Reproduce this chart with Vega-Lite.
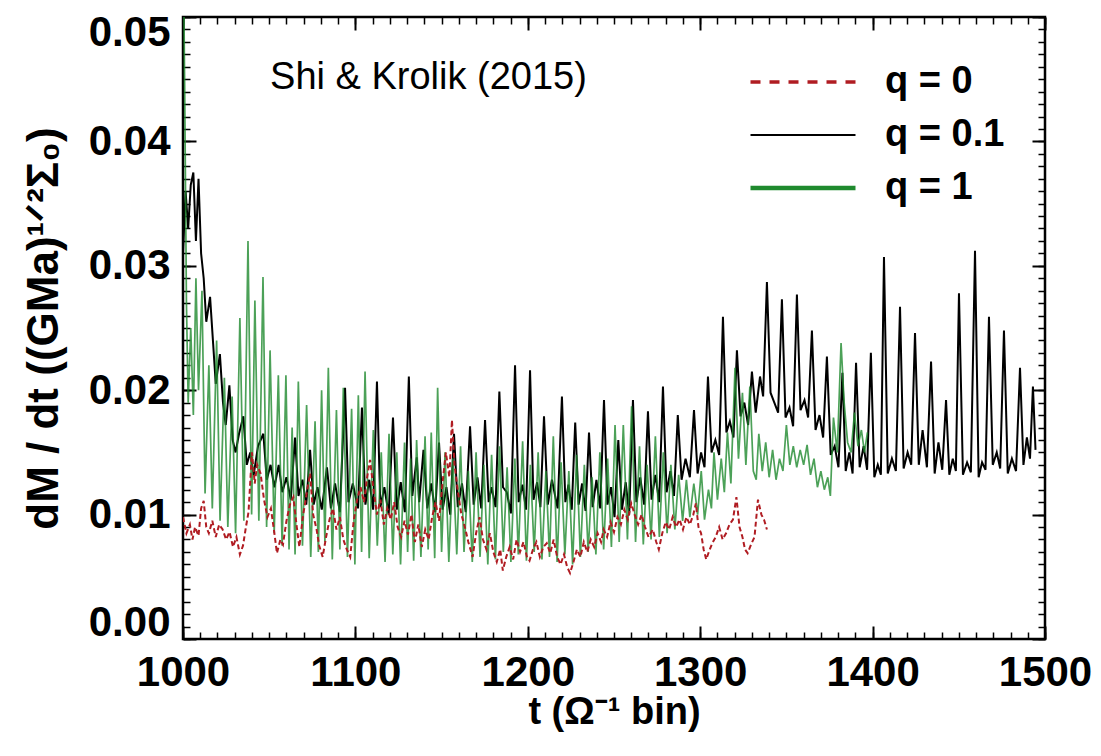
{
"$schema": "https://vega.github.io/schema/vega-lite/v6.json",
"width": 862, "height": 622,
"autosize": "none",
"padding": {"left": 183, "top": 17, "right": 56, "bottom": 117},
"background": "white",
"config": {
  "view": {"stroke": "black", "strokeWidth": 2.5},
  "font": "Liberation Sans",
  "axis": {"grid": false, "domain": false, "tickColor": "black", "labelFont": "Liberation Sans", "labelFontWeight": "bold", "labelFontSize": 42, "labelColor": "black", "titleFont": "Liberation Sans", "titleFontWeight": "bold", "titleColor": "black", "labelFlush": false}
},
"datasets": {
"q01": [
{"t":1000,"v":0.031},{"t":1001.5,"v":0.036},{"t":1003,"v":0.033},{"t":1004.5,"v":0.0365},{"t":1006,"v":0.0375},{"t":1007.5,"v":0.032},{"t":1009,"v":0.037},{"t":1010.5,"v":0.031},{"t":1012,"v":0.029},{"t":1013.5,"v":0.0255},{"t":1015.7,"v":0.0275},{"t":1017.5,"v":0.0237},{"t":1019,"v":0.0205},{"t":1021.4,"v":0.0229},{"t":1023.2,"v":0.019},{"t":1024.8,"v":0.0172},{"t":1026.9,"v":0.0204},{"t":1028.8,"v":0.016},{"t":1030.5,"v":0.015},{"t":1032.5,"v":0.0165},{"t":1035,"v":0.0179},{"t":1037,"v":0.014},{"t":1039,"v":0.015},{"t":1041,"v":0.0132},{"t":1043.5,"v":0.0155},{"t":1046.6,"v":0.0165},{"t":1048.6,"v":0.0128},{"t":1050.8,"v":0.014},{"t":1053,"v":0.0122},{"t":1055.5,"v":0.014},{"t":1057.6,"v":0.0118},{"t":1060,"v":0.013},{"t":1062.5,"v":0.0112},{"t":1065,"v":0.0162},{"t":1067,"v":0.0115},{"t":1069.3,"v":0.0128},{"t":1071.5,"v":0.0108},{"t":1073.7,"v":0.0152},{"t":1075.8,"v":0.0108},{"t":1078,"v":0.0122},{"t":1080.5,"v":0.0104},{"t":1083.5,"v":0.0138},{"t":1085.8,"v":0.0105},{"t":1088.2,"v":0.0125},{"t":1091,"v":0.0102},{"t":1094,"v":0.0202},{"t":1096,"v":0.011},{"t":1098.5,"v":0.0125},{"t":1101.5,"v":0.0105},{"t":1103.8,"v":0.0186},{"t":1105.8,"v":0.0108},{"t":1108,"v":0.0128},{"t":1110.3,"v":0.0104},{"t":1112.5,"v":0.0207},{"t":1114.5,"v":0.0106},{"t":1116.8,"v":0.0122},{"t":1119.3,"v":0.01},{"t":1121.8,"v":0.0178},{"t":1124,"v":0.0104},{"t":1126.3,"v":0.0126},{"t":1128.7,"v":0.0102},{"t":1131,"v":0.0211},{"t":1133,"v":0.0115},{"t":1135.6,"v":0.0146},{"t":1137,"v":0.011},{"t":1139.5,"v":0.0152},{"t":1141.7,"v":0.0105},{"t":1144,"v":0.0125},{"t":1146.3,"v":0.0102},{"t":1148.5,"v":0.0158},{"t":1150.6,"v":0.0104},{"t":1152.8,"v":0.0122},{"t":1155,"v":0.01},{"t":1157.2,"v":0.0165},{"t":1159.4,"v":0.0106},{"t":1161.8,"v":0.0125},{"t":1164,"v":0.0102},{"t":1166.5,"v":0.0171},{"t":1168.6,"v":0.0108},{"t":1170.8,"v":0.013},{"t":1173,"v":0.0105},{"t":1175.2,"v":0.0176},{"t":1177.3,"v":0.011},{"t":1179,"v":0.0122},{"t":1181.3,"v":0.0106},{"t":1183.5,"v":0.0199},{"t":1185.6,"v":0.0122},{"t":1187.8,"v":0.0118},{"t":1190.2,"v":0.0101},{"t":1192.6,"v":0.022},{"t":1194.7,"v":0.011},{"t":1196.9,"v":0.0124},{"t":1199,"v":0.0104},{"t":1201.3,"v":0.0216},{"t":1203.3,"v":0.0112},{"t":1205.4,"v":0.0126},{"t":1207.3,"v":0.0106},{"t":1209.4,"v":0.0179},{"t":1211.6,"v":0.0108},{"t":1214,"v":0.0128},{"t":1217.3,"v":0.0105},{"t":1219.8,"v":0.0195},{"t":1221.8,"v":0.011},{"t":1223.6,"v":0.0124},{"t":1225.5,"v":0.0104},{"t":1227.5,"v":0.0174},{"t":1229.5,"v":0.0108},{"t":1231.5,"v":0.0125},{"t":1233.5,"v":0.0103},{"t":1235.5,"v":0.0166},{"t":1237.6,"v":0.0106},{"t":1239.8,"v":0.0128},{"t":1242,"v":0.0105},{"t":1244.2,"v":0.0192},{"t":1246.2,"v":0.0108},{"t":1248.3,"v":0.0122},{"t":1250.3,"v":0.0098},{"t":1252.5,"v":0.016},{"t":1254.6,"v":0.0104},{"t":1256.8,"v":0.0126},{"t":1258.8,"v":0.01},{"t":1261,"v":0.0192},{"t":1263,"v":0.011},{"t":1265.2,"v":0.013},{"t":1267.5,"v":0.0108},{"t":1269.7,"v":0.0183},{"t":1271.8,"v":0.0112},{"t":1274,"v":0.0132},{"t":1276.2,"v":0.011},{"t":1278.4,"v":0.0203},{"t":1280.5,"v":0.0118},{"t":1282.7,"v":0.0135},{"t":1284.8,"v":0.0115},{"t":1287,"v":0.018},{"t":1289.2,"v":0.0128},{"t":1291.5,"v":0.0145},{"t":1294,"v":0.013},{"t":1296.4,"v":0.0184},{"t":1298.5,"v":0.0133},{"t":1300.5,"v":0.015},{"t":1302.5,"v":0.0138},{"t":1304.5,"v":0.0211},{"t":1306.6,"v":0.015},{"t":1308.8,"v":0.016},{"t":1311,"v":0.0148},{"t":1313.2,"v":0.0259},{"t":1315.2,"v":0.0166},{"t":1317.2,"v":0.0175},{"t":1319.3,"v":0.0162},{"t":1321.3,"v":0.0232},{"t":1323.4,"v":0.0179},{"t":1325.6,"v":0.019},{"t":1327.8,"v":0.0172},{"t":1330,"v":0.0215},{"t":1332.2,"v":0.0182},{"t":1334.7,"v":0.0211},{"t":1336.5,"v":0.0195},{"t":1338.7,"v":0.0287},{"t":1340.8,"v":0.0198},{"t":1343,"v":0.019},{"t":1345.2,"v":0.0182},{"t":1347.4,"v":0.0273},{"t":1349.5,"v":0.0178},{"t":1351.8,"v":0.0186},{"t":1353.9,"v":0.0171},{"t":1356.1,"v":0.0277},{"t":1358.2,"v":0.0184},{"t":1360.5,"v":0.0192},{"t":1362.6,"v":0.0178},{"t":1364.8,"v":0.0248},{"t":1366.9,"v":0.0168},{"t":1369.2,"v":0.018},{"t":1371.3,"v":0.0162},{"t":1373.5,"v":0.0227},{"t":1375.7,"v":0.0148},{"t":1378,"v":0.0155},{"t":1380.2,"v":0.0138},{"t":1382.5,"v":0.0214},{"t":1384.4,"v":0.0135},{"t":1386.5,"v":0.015},{"t":1388.4,"v":0.0133},{"t":1390.4,"v":0.0222},{"t":1392.5,"v":0.0138},{"t":1394.8,"v":0.0155},{"t":1396.8,"v":0.0136},{"t":1399,"v":0.023},{"t":1401,"v":0.013},{"t":1403,"v":0.014},{"t":1404.8,"v":0.0132},{"t":1406.6,"v":0.0307},{"t":1408.8,"v":0.0133},{"t":1411.2,"v":0.0145},{"t":1413.5,"v":0.0135},{"t":1415.9,"v":0.0267},{"t":1418,"v":0.0137},{"t":1420.3,"v":0.015},{"t":1422.4,"v":0.014},{"t":1424.6,"v":0.0246},{"t":1426.8,"v":0.014},{"t":1429,"v":0.0168},{"t":1431.5,"v":0.0138},{"t":1433.9,"v":0.0223},{"t":1436,"v":0.0133},{"t":1438.2,"v":0.0158},{"t":1440.4,"v":0.0136},{"t":1442.6,"v":0.0192},{"t":1444.5,"v":0.0132},{"t":1446.5,"v":0.0145},{"t":1448.3,"v":0.0135},{"t":1450.1,"v":0.0278},{"t":1452.4,"v":0.0132},{"t":1454.8,"v":0.0142},{"t":1457,"v":0.0134},{"t":1459.4,"v":0.0312},{"t":1461.5,"v":0.013},{"t":1463.5,"v":0.0142},{"t":1465.5,"v":0.0136},{"t":1467.5,"v":0.0259},{"t":1469.7,"v":0.014},{"t":1472,"v":0.015},{"t":1474,"v":0.0137},{"t":1476.2,"v":0.0248},{"t":1478.4,"v":0.0133},{"t":1480.8,"v":0.0145},{"t":1483.2,"v":0.0135},{"t":1485.5,"v":0.0218},{"t":1487.5,"v":0.014},{"t":1489.5,"v":0.0162},{"t":1491.3,"v":0.0145},{"t":1493,"v":0.0203},{"t":1494.5,"v":0.0152}
],
"q1": [
{"t":1000,"v":0.058},{"t":1001,"v":0.044},{"t":1002,"v":0.027},{"t":1003,"v":0.019},{"t":1004.5,"v":0.025},{"t":1006,"v":0.018},{"t":1007.5,"v":0.029},{"t":1009,"v":0.02},{"t":1011,"v":0.028},{"t":1012.8,"v":0.0117},{"t":1015,"v":0.022},{"t":1017,"v":0.0105},{"t":1019.5,"v":0.024},{"t":1021.5,"v":0.0095},{"t":1024,"v":0.021},{"t":1026,"v":0.009},{"t":1028.5,"v":0.0195},{"t":1030.5,"v":0.0085},{"t":1033,"v":0.0258},{"t":1035.3,"v":0.0095},{"t":1037.7,"v":0.032},{"t":1039.8,"v":0.01},{"t":1041.7,"v":0.0272},{"t":1044,"v":0.0095},{"t":1046.4,"v":0.0291},{"t":1048.5,"v":0.009},{"t":1050.5,"v":0.0232},{"t":1052.9,"v":0.0085},{"t":1055.3,"v":0.0212},{"t":1057.5,"v":0.0075},{"t":1059.7,"v":0.0212},{"t":1061.5,"v":0.0072},{"t":1063.3,"v":0.017},{"t":1065,"v":0.0068},{"t":1066.9,"v":0.0207},{"t":1069.3,"v":0.0075},{"t":1071.7,"v":0.0188},{"t":1074.1,"v":0.0066},{"t":1076.6,"v":0.0175},{"t":1078.5,"v":0.007},{"t":1080.4,"v":0.02},{"t":1082.3,"v":0.0078},{"t":1084.3,"v":0.0218},{"t":1086.6,"v":0.0064},{"t":1089,"v":0.0184},{"t":1091,"v":0.0072},{"t":1093,"v":0.0202},{"t":1095.4,"v":0.0066},{"t":1097.8,"v":0.0185},{"t":1099.7,"v":0.006},{"t":1101.7,"v":0.0196},{"t":1103.6,"v":0.007},{"t":1105.6,"v":0.0215},{"t":1108,"v":0.0065},{"t":1110.4,"v":0.0168},{"t":1112.7,"v":0.0075},{"t":1115,"v":0.015},{"t":1117.2,"v":0.0062},{"t":1119.5,"v":0.0165},{"t":1121.7,"v":0.0068},{"t":1124,"v":0.015},{"t":1126.2,"v":0.006},{"t":1128.5,"v":0.0158},{"t":1130.3,"v":0.007},{"t":1132,"v":0.0145},{"t":1133.8,"v":0.0063},{"t":1135.5,"v":0.016},{"t":1138,"v":0.0066},{"t":1140.4,"v":0.0163},{"t":1142.2,"v":0.0072},{"t":1144,"v":0.0166},{"t":1146,"v":0.0065},{"t":1147.7,"v":0.0202},{"t":1150,"v":0.007},{"t":1152,"v":0.015},{"t":1154.2,"v":0.0062},{"t":1156.5,"v":0.0145},{"t":1158.8,"v":0.0068},{"t":1161,"v":0.0155},{"t":1163,"v":0.007},{"t":1165.5,"v":0.0135},{"t":1167.8,"v":0.0062},{"t":1170,"v":0.015},{"t":1172.3,"v":0.0066},{"t":1174.5,"v":0.014},{"t":1176.8,"v":0.006},{"t":1179,"v":0.0148},{"t":1181.2,"v":0.0064},{"t":1183.6,"v":0.0155},{"t":1185.8,"v":0.007},{"t":1188,"v":0.0138},{"t":1190.2,"v":0.0062},{"t":1192.5,"v":0.0145},{"t":1194.5,"v":0.0068},{"t":1197,"v":0.0159},{"t":1199.2,"v":0.0063},{"t":1201.5,"v":0.014},{"t":1203.7,"v":0.007},{"t":1206,"v":0.015},{"t":1208.2,"v":0.0064},{"t":1210.5,"v":0.0135},{"t":1212.6,"v":0.0066},{"t":1214.8,"v":0.0163},{"t":1217,"v":0.0062},{"t":1219.3,"v":0.0142},{"t":1221.5,"v":0.0068},{"t":1223.8,"v":0.0135},{"t":1226,"v":0.006},{"t":1228.3,"v":0.0148},{"t":1230.5,"v":0.0066},{"t":1232.8,"v":0.014},{"t":1235,"v":0.007},{"t":1237.3,"v":0.013},{"t":1239.5,"v":0.0068},{"t":1241.8,"v":0.015},{"t":1244,"v":0.0072},{"t":1246.3,"v":0.0145},{"t":1248.5,"v":0.0074},{"t":1250.6,"v":0.0172},{"t":1253,"v":0.0078},{"t":1255.4,"v":0.0172},{"t":1257.8,"v":0.008},{"t":1260.2,"v":0.0187},{"t":1262.5,"v":0.0078},{"t":1264.8,"v":0.0155},{"t":1267,"v":0.0076},{"t":1269.2,"v":0.014},{"t":1271.5,"v":0.008},{"t":1274,"v":0.0163},{"t":1276.3,"v":0.0082},{"t":1278.6,"v":0.015},{"t":1280.8,"v":0.0085},{"t":1283,"v":0.014},{"t":1285.3,"v":0.0088},{"t":1287.5,"v":0.0132},{"t":1289.8,"v":0.0095},{"t":1292,"v":0.0128},{"t":1294,"v":0.0098},{"t":1296.3,"v":0.0125},{"t":1298.5,"v":0.01},{"t":1300.6,"v":0.0135},{"t":1302.5,"v":0.0096},{"t":1304.8,"v":0.012},{"t":1306.5,"v":0.0105},{"t":1308,"v":0.015},{"t":1310,"v":0.0112},{"t":1312.2,"v":0.0145},{"t":1314,"v":0.0118},{"t":1315.8,"v":0.0166},{"t":1317.8,"v":0.0125},{"t":1320.2,"v":0.0218},{"t":1322.2,"v":0.0145},{"t":1324.5,"v":0.0198},{"t":1326.5,"v":0.014},{"t":1328.8,"v":0.0203},{"t":1330.8,"v":0.0135},{"t":1332.5,"v":0.0128},{"t":1334,"v":0.0165},{"t":1336,"v":0.0135},{"t":1338,"v":0.0158},{"t":1340,"v":0.013},{"t":1342,"v":0.0152},{"t":1344,"v":0.0128},{"t":1346,"v":0.0145},{"t":1348,"v":0.0135},{"t":1350,"v":0.0172},{"t":1352,"v":0.014},{"t":1354,"v":0.0155},{"t":1356,"v":0.0138},{"t":1358,"v":0.0152},{"t":1360,"v":0.014},{"t":1362,"v":0.0156},{"t":1364,"v":0.0132},{"t":1366,"v":0.0145},{"t":1368,"v":0.0122},{"t":1370,"v":0.0135},{"t":1372,"v":0.012},{"t":1374,"v":0.013},{"t":1375.5,"v":0.0115},{"t":1377.3,"v":0.0178},{"t":1379.5,"v":0.015},{"t":1381.7,"v":0.0238},{"t":1383.5,"v":0.019},{"t":1385.5,"v":0.0158},{"t":1387.5,"v":0.015},{"t":1389.5,"v":0.0182},{"t":1391.5,"v":0.0155},{"t":1393.5,"v":0.0168},{"t":1395.3,"v":0.015},{"t":1397,"v":0.0166}
],
"q0": [
{"t":1000,"v":0.0098},{"t":1002,"v":0.0085},{"t":1004,"v":0.0092},{"t":1005.5,"v":0.008},{"t":1007,"v":0.009},{"t":1009,"v":0.0083},{"t":1010.5,"v":0.0105},{"t":1012,"v":0.0111},{"t":1013.5,"v":0.009},{"t":1015,"v":0.0085},{"t":1017,"v":0.0095},{"t":1019,"v":0.0082},{"t":1021,"v":0.0092},{"t":1023,"v":0.0088},{"t":1025,"v":0.008},{"t":1027,"v":0.0086},{"t":1029,"v":0.0074},{"t":1031,"v":0.0082},{"t":1033,"v":0.0068},{"t":1034.8,"v":0.0075},{"t":1036.5,"v":0.009},{"t":1038,"v":0.0102},{"t":1040,"v":0.015},{"t":1041.6,"v":0.0125},{"t":1043,"v":0.014},{"t":1045,"v":0.0133},{"t":1047,"v":0.0112},{"t":1049,"v":0.0098},{"t":1051,"v":0.0105},{"t":1053,"v":0.0085},{"t":1054.5,"v":0.0069},{"t":1056.5,"v":0.008},{"t":1058,"v":0.0076},{"t":1060,"v":0.0095},{"t":1062,"v":0.0108},{"t":1064,"v":0.0114},{"t":1066,"v":0.009},{"t":1067.5,"v":0.0074},{"t":1069.5,"v":0.0098},{"t":1071.5,"v":0.0115},{"t":1073.7,"v":0.0133},{"t":1075.5,"v":0.01},{"t":1077.5,"v":0.0088},{"t":1079,"v":0.0075},{"t":1081,"v":0.0066},{"t":1083,"v":0.0082},{"t":1085,"v":0.0096},{"t":1087,"v":0.0105},{"t":1089,"v":0.0088},{"t":1091,"v":0.0098},{"t":1093,"v":0.008},{"t":1095,"v":0.0072},{"t":1097,"v":0.0066},{"t":1099,"v":0.0095},{"t":1101,"v":0.0112},{"t":1103,"v":0.0122},{"t":1105,"v":0.011},{"t":1106.8,"v":0.013},{"t":1108.5,"v":0.0144},{"t":1110.5,"v":0.012},{"t":1112.5,"v":0.01},{"t":1114.5,"v":0.0112},{"t":1116.5,"v":0.0092},{"t":1118.5,"v":0.0105},{"t":1120.5,"v":0.0096},{"t":1122.5,"v":0.011},{"t":1124.5,"v":0.009},{"t":1126.5,"v":0.0082},{"t":1128.5,"v":0.0095},{"t":1130.5,"v":0.0084},{"t":1132.5,"v":0.01},{"t":1134.5,"v":0.0078},{"t":1136.5,"v":0.0092},{"t":1138.5,"v":0.0074},{"t":1140.5,"v":0.0088},{"t":1142.5,"v":0.008},{"t":1144.5,"v":0.0098},{"t":1146.5,"v":0.011},{"t":1148.5,"v":0.0095},{"t":1150.5,"v":0.0125},{"t":1152.5,"v":0.015},{"t":1154.5,"v":0.013},{"t":1156,"v":0.0176},{"t":1157.5,"v":0.014},{"t":1159.5,"v":0.0118},{"t":1161.5,"v":0.01},{"t":1163.5,"v":0.009},{"t":1165.5,"v":0.0078},{"t":1168,"v":0.0066},{"t":1170,"v":0.0085},{"t":1172,"v":0.0098},{"t":1174,"v":0.008},{"t":1176,"v":0.0072},{"t":1178,"v":0.0085},{"t":1180,"v":0.007},{"t":1182,"v":0.0062},{"t":1184,"v":0.0072},{"t":1185.5,"v":0.0055},{"t":1187.5,"v":0.0066},{"t":1189.5,"v":0.0074},{"t":1191.5,"v":0.0064},{"t":1193.5,"v":0.008},{"t":1195.5,"v":0.007},{"t":1197.5,"v":0.0078},{"t":1199.5,"v":0.0066},{"t":1201,"v":0.0063},{"t":1203,"v":0.0072},{"t":1205,"v":0.0078},{"t":1207,"v":0.0066},{"t":1209,"v":0.0074},{"t":1211,"v":0.0077},{"t":1213,"v":0.0069},{"t":1215,"v":0.008},{"t":1217,"v":0.0066},{"t":1219,"v":0.006},{"t":1221,"v":0.0068},{"t":1222.8,"v":0.0058},{"t":1224.5,"v":0.0053},{"t":1226.5,"v":0.0062},{"t":1228.5,"v":0.0072},{"t":1230.5,"v":0.0066},{"t":1232.5,"v":0.0078},{"t":1234.5,"v":0.007},{"t":1236.5,"v":0.008},{"t":1238.5,"v":0.0074},{"t":1240.5,"v":0.0085},{"t":1242.5,"v":0.0078},{"t":1244,"v":0.0088},{"t":1246,"v":0.0082},{"t":1248,"v":0.0094},{"t":1250,"v":0.0086},{"t":1252,"v":0.0098},{"t":1254,"v":0.0092},{"t":1256,"v":0.0104},{"t":1258,"v":0.0096},{"t":1260,"v":0.0109},{"t":1262,"v":0.01},{"t":1264,"v":0.0092},{"t":1266,"v":0.01},{"t":1268,"v":0.009},{"t":1270,"v":0.0082},{"t":1272.5,"v":0.0088},{"t":1274.5,"v":0.0078},{"t":1276,"v":0.0072},{"t":1278,"v":0.0085},{"t":1280,"v":0.0094},{"t":1282,"v":0.0088},{"t":1284,"v":0.0098},{"t":1286,"v":0.009},{"t":1288,"v":0.0096},{"t":1290,"v":0.0088},{"t":1292,"v":0.0098},{"t":1294,"v":0.0092},{"t":1296,"v":0.01},{"t":1297.5,"v":0.0109},{"t":1299,"v":0.009},{"t":1300.5,"v":0.0085},{"t":1302,"v":0.0072},{"t":1303.5,"v":0.0064},{"t":1305,"v":0.007},{"t":1307,"v":0.0077},{"t":1309,"v":0.0082},{"t":1311,"v":0.009},{"t":1313,"v":0.008},{"t":1315,"v":0.0085},{"t":1317,"v":0.0092},{"t":1319,"v":0.0096},{"t":1321,"v":0.0114},{"t":1322.8,"v":0.009},{"t":1324.5,"v":0.0082},{"t":1326,"v":0.0072},{"t":1327.5,"v":0.0069},{"t":1329.5,"v":0.0076},{"t":1331.5,"v":0.0082},{"t":1333.5,"v":0.0112},{"t":1335.5,"v":0.01},{"t":1337,"v":0.0096},{"t":1338.7,"v":0.0088}
]
},
"layer": [
{
  "data": {"name": "q01"},
  "mark": {"type": "line", "strokeWidth": 2, "clip": true},
  "encoding": {
    "x": {"field": "t", "type": "quantitative", "scale": {"domain": [1000, 1500], "nice": false, "zero": false},
      "axis": {"orient": "bottom", "values": [1000, 1100, 1200, 1300, 1400, 1500], "format": "d", "labelFlush": false, "tickSize": -13, "tickWidth": 2, "labelPadding": 26, "labelFontSize": 42, "title": "t (Ω⁻¹ bin)", "titleFontSize": 38, "titlePadding": 0}},
    "y": {"field": "v", "type": "quantitative", "scale": {"domain": [0, 0.05], "nice": false, "zero": false},
      "axis": {"orient": "left", "values": [0, 0.01, 0.02, 0.03, 0.04, 0.05], "format": ".2f", "labelFlush": true, "labelFlushOffset": 5, "tickSize": -13, "tickWidth": 2, "labelPadding": 26, "labelFontSize": 42, "title": "dM / dt ((GMa)¹ᐟ²Σ₀)", "titleFontSize": 44, "titlePadding": 22}},
    "color": {"datum": "q = 0.1", "type": "nominal",
      "scale": {"domain": ["q = 0", "q = 0.1", "q = 1"], "range": ["#b01c22", "#000000", "#1f8a2e"]},
      "legend": {"title": null, "orient": "none", "legendX": 567, "legendY": 46, "padding": 0, "symbolType": "stroke", "symbolSize": 11025, "rowPadding": 15, "symbolOffset": 34, "labelOffset": 63, "labelFont": "Liberation Sans", "labelFontWeight": "bold", "labelFontSize": 38, "labelColor": "black",
        "encode": {"symbols": {"update": {
          "strokeWidth": {"signal": "datum.value === 'q = 1' ? 4.5 : (datum.value === 'q = 0' ? 3.5 : 1.8)"},
          "strokeDash": {"signal": "datum.value === 'q = 0' ? [10, 9] : [1, 0]"},
          "stroke": {"signal": "datum.value === 'q = 0' ? '#d27575' : (datum.value === 'q = 1' ? '#1f8a2e' : '#000000')"}
        }}}}}
  }
},
{
  "data": {"name": "q1"},
  "mark": {"type": "line", "strokeWidth": 1.7, "opacity": 0.8, "clip": true},
  "encoding": {
    "x": {"field": "t", "type": "quantitative",
      "axis": {"orient": "bottom", "labels": false, "title": null, "tickSize": -7, "tickWidth": 1.5, "values": [1000,1010,1020,1030,1040,1050,1060,1070,1080,1090,1100,1110,1120,1130,1140,1150,1160,1170,1180,1190,1200,1210,1220,1230,1240,1250,1260,1270,1280,1290,1300,1310,1320,1330,1340,1350,1360,1370,1380,1390,1400,1410,1420,1430,1440,1450,1460,1470,1480,1490,1500]}},
    "y": {"field": "v", "type": "quantitative",
      "axis": {"orient": "left", "labels": false, "title": null, "tickSize": -7, "tickWidth": 1.5, "values": [0,0.001,0.002,0.003,0.004,0.005,0.006,0.007,0.008,0.009,0.01,0.011,0.012,0.013,0.014,0.015,0.016,0.017,0.018,0.019,0.02,0.021,0.022,0.023,0.024,0.025,0.026,0.027,0.028,0.029,0.03,0.031,0.032,0.033,0.034,0.035,0.036,0.037,0.038,0.039,0.04,0.041,0.042,0.043,0.044,0.045,0.046,0.047,0.048,0.049,0.05]}},
    "color": {"datum": "q = 1", "type": "nominal"}
  }
},
{
  "data": {"name": "q0"},
  "mark": {"type": "line", "strokeWidth": 2, "strokeDash": [5, 3], "clip": true},
  "encoding": {
    "x": {"field": "t", "type": "quantitative",
      "axis": {"orient": "top", "labels": false, "title": null, "tickSize": -13, "tickWidth": 2, "values": [1000, 1100, 1200, 1300, 1400, 1500]}},
    "y": {"field": "v", "type": "quantitative",
      "axis": {"orient": "right", "labels": false, "title": null, "tickSize": -13, "tickWidth": 2, "values": [0, 0.01, 0.02, 0.03, 0.04, 0.05]}},
    "color": {"datum": "q = 0", "type": "nominal"}
  }
},
{
  "data": {"values": [{}]},
  "mark": {"type": "text", "text": "Shi & Krolik (2015)", "font": "Liberation Sans", "fontSize": 38, "fontWeight": "normal", "align": "left", "baseline": "middle", "color": "black"},
  "encoding": {
    "x": {"datum": 1050.5, "type": "quantitative",
      "axis": {"orient": "top", "labels": false, "title": null, "tickSize": -7, "tickWidth": 1.5, "values": [1000,1010,1020,1030,1040,1050,1060,1070,1080,1090,1100,1110,1120,1130,1140,1150,1160,1170,1180,1190,1200,1210,1220,1230,1240,1250,1260,1270,1280,1290,1300,1310,1320,1330,1340,1350,1360,1370,1380,1390,1400,1410,1420,1430,1440,1450,1460,1470,1480,1490,1500]}},
    "y": {"datum": 0.0451, "type": "quantitative",
      "axis": {"orient": "right", "labels": false, "title": null, "tickSize": -7, "tickWidth": 1.5, "values": [0,0.001,0.002,0.003,0.004,0.005,0.006,0.007,0.008,0.009,0.01,0.011,0.012,0.013,0.014,0.015,0.016,0.017,0.018,0.019,0.02,0.021,0.022,0.023,0.024,0.025,0.026,0.027,0.028,0.029,0.03,0.031,0.032,0.033,0.034,0.035,0.036,0.037,0.038,0.039,0.04,0.041,0.042,0.043,0.044,0.045,0.046,0.047,0.048,0.049,0.05]}}
  }
}
],
"resolve": {"axis": {"x": "independent", "y": "independent"}}
}
